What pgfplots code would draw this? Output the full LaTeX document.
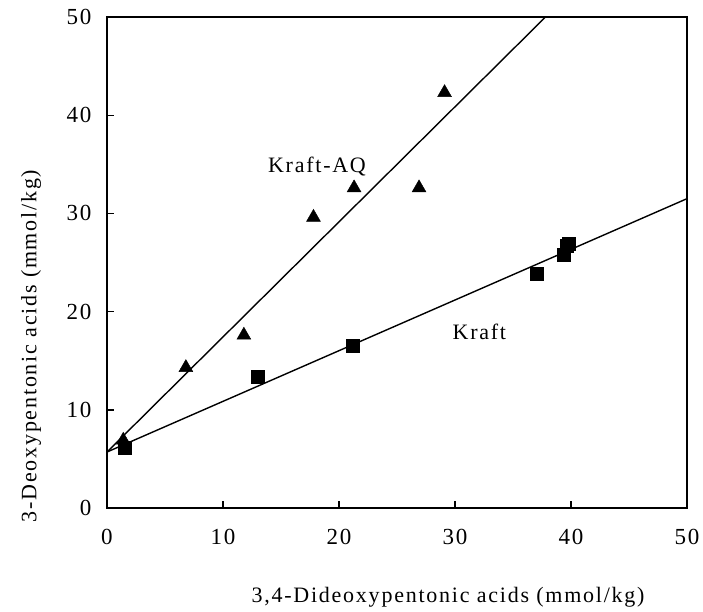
\documentclass[border=0pt]{standalone}
\usepackage{pgfplots}
\pgfplotsset{compat=1.18}
\usepackage{fontspec}
\setmainfont{Liberation Serif}[LetterSpace=8]
\begin{document}
\fontsize{22bp}{26bp}\selectfont
\begin{tikzpicture}
\useasboundingbox (-107bp,-104bp) rectangle (596bp,508bp);
\begin{axis}[
    scale only axis,
    width=580bp,
    height=491bp,
    xmin=0, xmax=50,
    ymin=0, ymax=50,
    xtick={0,10,...,50},
    ytick={0,10,...,50},
    tick pos=left,
    tick align=inside,
    major tick length=7bp,
    axis line style={line width=1.8bp},
    tick style={line width=1.4bp, black},
    /pgf/number format/assume math mode=true,
    ticklabel style={font=\fontsize{23bp}{27bp}\selectfont},
    xticklabel style={yshift=-14bp},
    yticklabel style={xshift=-8bp},
    xlabel={3,4-Dideoxypentonic acids (mmol/kg)},
    ylabel={3-Deoxypentonic acids (mmol/kg)},
    xlabel style={at={(rel axis cs:0.588,-0.181)}, anchor=center},
    ylabel style={at={(rel axis cs:-0.131,0.33)}, anchor=center},
    label style={font=\fontsize{22bp}{26bp}\selectfont},
    clip=true,
]
% Kraft-AQ
\addplot[only marks, mark=triangle*, mark size=8bp, black] coordinates {
(1.4,6.9)(6.8,14.3)(11.8,17.6)(17.8,29.6)(21.3,32.6)(26.9,32.6)(29.1,42.3)};
\addplot[black, line width=1.4bp] coordinates {(0,5.7)(37.8,50)};
% Kraft
\addplot[only marks, mark=square*, mark size=6.5bp, black] coordinates {
(1.5,6.1)(13.0,13.4)(21.2,16.5)(37.0,23.9)(39.4,25.8)(39.6,26.7)(39.8,26.9)};
\addplot[black, line width=1.4bp] coordinates {(0,5.7)(50,31.5)};
\node[font=\fontsize{22bp}{26bp}\selectfont] at (axis cs:18.1,34.8) {Kraft-AQ};
\node[font=\fontsize{22bp}{26bp}\selectfont] at (axis cs:32.1,17.9) {Kraft};
\end{axis}
\end{tikzpicture}
\end{document}
